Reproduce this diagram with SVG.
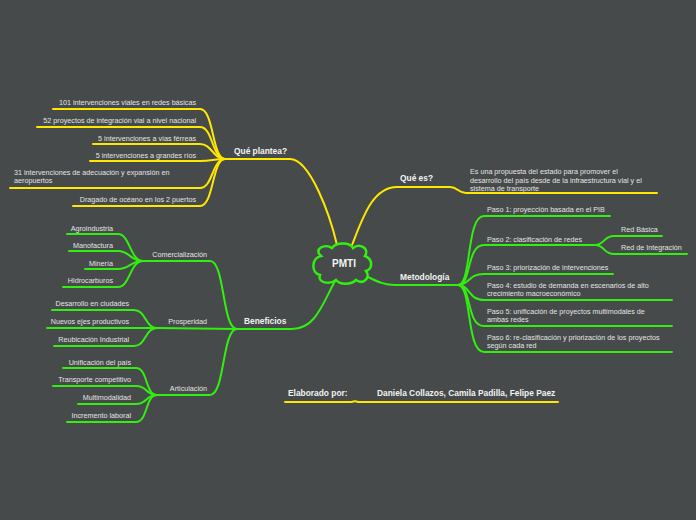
<svg xmlns="http://www.w3.org/2000/svg" width="696" height="520" viewBox="0 0 696 520">
<style>
.y{fill:none;stroke:#ffe800;stroke-width:2;stroke-linecap:round}
.g{fill:none;stroke:#33ee11;stroke-width:2;stroke-linecap:round}
.t{font-family:"Liberation Sans",Arial,sans-serif;font-size:7.2px;fill:#e4e4e4}
.e{text-anchor:end}
.b{font-family:"Liberation Sans",Arial,sans-serif;font-size:8.4px;font-weight:bold;fill:#f2f2f2}
</style>
<rect width="696" height="520" fill="#464a4a"/>
<g id="connectors">
<path class="y" d="M337,245 C330,215 310,159 290,159 H225"/>
<path class="y" d="M53,109 H200 C214,109 212,159 225,159"/>
<path class="y" d="M37,127 H200 C213,127 212,159 225,159"/>
<path class="y" d="M93,144 H200 C212,144 213,159 225,159"/>
<path class="y" d="M90,161 H200 C212,161 213,159 225,159"/>
<path class="y" d="M10,188 H200 C213,188 212,159 225,159"/>
<path class="y" d="M73,206 H200 C214,206 212,159 225,159"/>
<path class="y" d="M352,245 C362,220 372,187 397,187 H450 C458,187 458,193 466,193 H657"/>
<path class="g" d="M368,277 C378,282 385,285 395,285 H458"/>
<path class="g" d="M458,285 C472,285 466,216 484,216 H610"/>
<path class="g" d="M458,285 C472,285 466,245 484,245 H595"/>
<path class="g" d="M595,245 C605,245 603,236 614,236 H662"/>
<path class="g" d="M595,245 C605,245 603,254 614,254 H687"/>
<path class="g" d="M458,285 C470,285 468,274 484,274 H613"/>
<path class="g" d="M458,285 C470,285 468,300 484,300 H672"/>
<path class="g" d="M458,285 C472,285 466,326 484,326 H672"/>
<path class="g" d="M458,285 C472,285 466,352 484,352 H672"/>
<path class="g" d="M335,281 C322,305 315,329 292,329 H237"/>
<path class="g" d="M237,329 C222,329 225,261 210,261 H143"/>
<path class="g" d="M67,234 H118 C130,234 130,261 143,261"/>
<path class="g" d="M69,251 H118 C130,251 130,261 143,261"/>
<path class="g" d="M85,269 H118 C130,269 130,261 143,261"/>
<path class="g" d="M63,287 H118 C130,287 130,261 143,261"/>
<path class="g" d="M237,329 L157,328"/>
<path class="g" d="M52,310 H134 C146,310 145,328 157,328"/>
<path class="g" d="M47,328 H157"/>
<path class="g" d="M54,346 H134 C146,346 145,328 157,328"/>
<path class="g" d="M237,329 C222,329 225,395 210,395 H157"/>
<path class="g" d="M63,368 H136 C148,368 145,395 157,395"/>
<path class="g" d="M53,386 H136 C148,386 145,395 157,395"/>
<path class="g" d="M78,404 H136 C148,404 145,395 157,395"/>
<path class="g" d="M67,422 H136 C148,422 145,395 157,395"/>
<path class="y" d="M285,402 H350 C354,402 354,400 358,402 H558"/>
</g>
<g id="pmti">
<path d="M321,256 C313,249 325,243 332,248 C336,242 350,242 353,248 C359,243 370,248 365,256 C373,259 373,269 366,271 C371,278 363,285 356,280 C351,285 340,285 336,280 C330,285 317,283 320,275 C311,273 311,258 321,256 Z" fill="#464a4a" stroke="#33ee11" stroke-width="2.5"/>
<text x="344" y="266.5" font-family="Liberation Sans,Arial,sans-serif" font-size="10" font-weight="bold" fill="#f4f4f4" text-anchor="middle">PMTI</text>
</g>
<g id="que-plantea"><text class="b" x="234" y="154">Qué plantea?</text></g>
<g id="qp1"><text class="t e" x="196" y="105">101 intervenciones viales en redes básicas</text></g>
<g id="qp2"><text class="t e" x="196" y="123">52 proyectos de integración vial a nivel nacional</text></g>
<g id="qp3"><text class="t e" x="196" y="140.8">5 intervenciones a vías férreas</text></g>
<g id="qp4"><text class="t e" x="196" y="158.2">5 intervenciones a grandes ríos</text></g>
<g id="qp5"><text class="t" x="14" y="175.2">31 intervenciones de adecuación y expansión en</text><text class="t" x="14" y="183.2">aeropuertos</text></g>
<g id="qp6"><text class="t e" x="196" y="201.8">Dragado de océano en los 2 puertos</text></g>
<g id="que-es"><text class="b" x="400" y="181">Qué es?</text></g>
<g id="que-es-desc"><text class="t" x="470" y="174.2">Es una propuesta del estado para promover el</text><text class="t" x="470" y="182.5">desarrollo del país desde de la infraestructura vial y el</text><text class="t" x="470" y="190.8">sistema de transporte</text></g>
<g id="metodologia"><text class="b" x="400" y="280">Metodología</text></g>
<g id="paso1"><text class="t" x="487" y="211.8">Paso 1: proyección basada en el PIB</text></g>
<g id="paso2"><text class="t" x="487" y="241.5">Paso 2: clasificación de redes</text></g>
<g id="red-basica"><text class="t" x="621" y="231.8">Red Básica</text></g>
<g id="red-integracion"><text class="t" x="621" y="250.2">Red de Integración</text></g>
<g id="paso3"><text class="t" x="487" y="270.2">Paso 3: priorización de intervenciones</text></g>
<g id="paso4"><text class="t" x="487" y="287.5">Paso 4: estudio de demanda en escenarios de alto</text><text class="t" x="487" y="295.8">crecimiento macroeconómico</text></g>
<g id="paso5"><text class="t" x="487" y="314.2">Paso 5: unificación de proyectos multimodales de</text><text class="t" x="487" y="321.8">ambas redes</text></g>
<g id="paso6"><text class="t" x="487" y="339.8">Paso 6: re-clasificación y priorización de los proyectos</text><text class="t" x="487" y="347.5">según cada red</text></g>
<g id="beneficios"><text class="b" x="244" y="324">Beneficios</text></g>
<g id="comercializacion"><text class="t e" x="207" y="256.8">Comercialización</text></g>
<g id="agroindustria"><text class="t e" x="113" y="230.5">Agroindustria</text></g>
<g id="manofactura"><text class="t e" x="113" y="247.8">Manofactura</text></g>
<g id="mineria"><text class="t e" x="113" y="265.8">Minería</text></g>
<g id="hidrocarburos"><text class="t e" x="113" y="283.2">Hidrocarburos</text></g>
<g id="prosperidad"><text class="t e" x="207" y="324.2">Prosperidad</text></g>
<g id="desarrollo"><text class="t e" x="129" y="305.8">Desarrollo en ciudades</text></g>
<g id="nuevos-ejes"><text class="t e" x="129" y="324.2">Nuevos ejes productivos</text></g>
<g id="reubicacion"><text class="t e" x="129" y="341.8">Reubicación Industrial</text></g>
<g id="articulacion"><text class="t e" x="207" y="391.2">Articulación</text></g>
<g id="unificacion"><text class="t e" x="131" y="364.8">Unificación del país</text></g>
<g id="transporte"><text class="t e" x="131" y="382.2">Transporte competitivo</text></g>
<g id="multimodalidad"><text class="t e" x="131" y="399.8">Multimodalidad</text></g>
<g id="incremento"><text class="t e" x="131" y="418.2">Incremento laboral</text></g>
<g id="elaborado"><text class="b" x="288" y="396">Elaborado por:</text></g>
<g id="autores"><text class="b" x="377" y="396">Daniela Collazos, Camila Padilla, Felipe Paez</text></g>
</svg>
